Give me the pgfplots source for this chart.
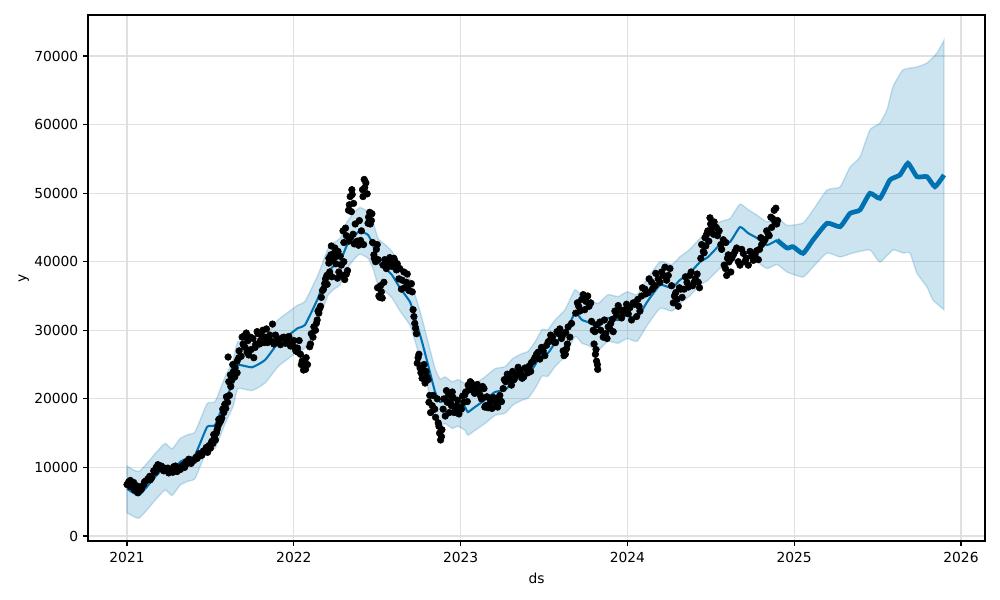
\documentclass[border=0pt]{standalone}
\usepackage{fontspec}
\setmainfont{DejaVu Sans}
\usepackage{pgfplots}
\usepackage{pgfplotstable}
\pgfplotsset{compat=1.18}
\usepgfplotslibrary{fillbetween}
\definecolor{pblue}{HTML}{0072B2}
\definecolor{gridc}{RGB}{224,224,224}

\pgfplotstableread{
x y
2021.000 7500
2021.010 7900
2021.020 8100
2021.030 7400
2021.040 7800
2021.055 7000
2021.065 6300
2021.075 6600
2021.085 6800
2021.100 7500
2021.112 8000
2021.124 8300
2021.136 8700
2021.148 8500
2021.160 9500
2021.175 10000
2021.190 9800
2021.205 10200
2021.220 9500
2021.235 9800
2021.250 9200
2021.265 9600
2021.280 10100
2021.300 9400
2021.320 9700
2021.340 10400
2021.355 10800
2021.370 11200
2021.385 10600
2021.400 11000
2021.415 11500
2021.432 12000
2021.449 11800
2021.466 12400
2021.483 12200
2021.500 12800
2021.515 13500
2021.525 14300
2021.535 15000
2021.545 16000
2021.555 16500
2021.568 17200
2021.580 18000
2021.592 18600
2021.603 19500
2021.614 20500
2021.606 26100
2021.622 21800
2021.630 22800
2021.638 24000
2021.646 23200
2021.660 25500
2021.672 27000
2021.684 26200
2021.696 28000
2021.708 27500
2021.720 26800
2021.703 29200
2021.715 29600
2021.730 26400
2021.745 27200
2021.760 26000
2021.772 28000
2021.786 29500
2021.800 28500
2021.814 30000
2021.828 29000
2021.842 28200
2021.856 29300
2021.872 30900
2021.880 28000
2021.900 28700
2021.920 27900
2021.940 29000
2021.960 28400
2021.980 27700
2022.000 28500
2022.012 27000
2022.022 27400
2022.032 28500
2022.040 26500
2022.050 25500
2022.058 24200
2022.066 24800
2022.074 26000
2022.082 25000
2022.100 28000
2022.115 29000
2022.130 30000
2022.140 31500
2022.150 32500
2022.160 33500
2022.172 35800
2022.185 36800
2022.198 38000
2022.210 39800
2022.222 41000
2022.234 40300
2022.246 42000
2022.258 40800
2022.270 38500
2022.285 39500
2022.300 40000
2022.315 38200
2022.300 42800
2022.315 43800
2022.330 43000
2022.328 47500
2022.338 49500
2022.348 50500
2022.358 48500
2022.355 44000
2022.368 45500
2022.380 43000
2022.393 46000
2022.405 44500
2022.418 42500
2022.412 50500
2022.422 52000
2022.432 51500
2022.448 46500
2022.458 45500
2022.468 47000
2022.480 41000
2022.490 40000
2022.500 42500
2022.510 35000
2022.520 36500
2022.530 34700
2022.540 37000
2022.555 39000
2022.570 40200
2022.585 39500
2022.600 40500
2022.615 38800
2022.630 37500
2022.645 36000
2022.660 38500
2022.675 37000
2022.690 35800
2022.705 36800
2022.715 33000
2022.725 31000
2022.735 29500
2022.745 26000
2022.757 24500
2022.769 23000
2022.781 25000
2022.793 24000
2022.805 22800
2022.815 20500
2022.830 19000
2022.845 18500
2022.860 20000
2022.866 16500
2022.874 15000
2022.880 14000
2022.888 15500
2022.895 18500
2022.908 17500
2022.920 19500
2022.932 18000
2022.945 19000
2022.928 20500
2022.950 21000
2022.962 18000
2022.975 19000
2022.990 17800
2023.005 18500
2023.020 19500
2023.030 21000
2023.045 22000
2023.058 22500
2023.071 21500
2023.084 20800
2023.097 21800
2023.110 21000
2023.125 20000
2023.140 21500
2023.150 19000
2023.165 18700
2023.180 19800
2023.195 20200
2023.210 19500
2023.222 18800
2023.235 20500
2023.255 21500
2023.270 22500
2023.288 23500
2023.305 22000
2023.320 22800
2023.335 23500
2023.352 24200
2023.369 23000
2023.386 24500
2023.403 23800
2023.420 24000
2023.435 25500
2023.455 26500
2023.475 25800
2023.495 27000
2023.515 27800
2023.533 28500
2023.551 29000
2023.569 28200
2023.587 29500
2023.605 28800
2023.615 27000
2023.628 26500
2023.640 28000
2023.655 29000
2023.645 30500
2023.665 31000
2023.690 32500
2023.708 33500
2023.726 34500
2023.744 33000
2023.762 35000
2023.780 34000
2023.795 30000
2023.815 30800
2023.835 31200
2023.800 28000
2023.808 26500
2023.815 25500
2023.822 24300
2023.855 29000
2023.870 29500
2023.885 30500
2023.900 31000
2023.915 29800
2023.935 32200
2023.955 33000
2023.975 32500
2023.995 33800
2024.015 33300
2024.035 34000
2024.055 32000
2024.070 33500
2024.085 35000
2024.105 36000
2024.125 35500
2024.145 37000
2024.165 36500
2024.185 37500
2024.205 38500
2024.225 39200
2024.245 38000
2024.275 34000
2024.290 35500
2024.305 33500
2024.320 36000
2024.340 36000
2024.357 37000
2024.374 38000
2024.391 36500
2024.408 37500
2024.425 37000
2024.440 40500
2024.455 41500
2024.470 42300
2024.465 43500
2024.482 44500
2024.499 45500
2024.516 44000
2024.533 45000
2024.495 46400
2024.560 42500
2024.575 43200
2024.580 39500
2024.595 38000
2024.610 40000
2024.625 40500
2024.645 41500
2024.665 40000
2024.685 41800
2024.705 40000
2024.725 39500
2024.745 40800
2024.765 41000
2024.785 40300
2024.805 42500
2024.825 43200
2024.845 44000
2024.865 45000
2024.885 45700
2024.860 46500
2024.880 47500
2024.900 46000
}\obsdata

\pgfplotstableread{
x y
2021.020 7200
2021.045 6700
2021.060 7300
2021.090 7200
2021.105 7900
2021.140 8200
2021.170 9300
2021.185 10400
2021.215 10000
2021.245 9900
2021.275 9300
2021.290 10200
2021.310 9900
2021.330 10200
2021.345 10000
2021.365 10600
2021.390 11000
2021.420 11300
2021.440 11700
2021.458 12400
2021.475 12900
2021.492 13200
2021.508 13800
2021.520 14800
2021.530 14000
2021.540 15500
2021.550 17000
2021.562 16800
2021.574 18500
2021.586 19200
2021.596 20300
2021.610 22500
2021.620 23500
2021.634 25000
2021.648 24500
2021.660 23800
2021.670 26000
2021.690 29000
2021.700 27800
2021.725 28500
2021.740 29000
2021.755 28800
2021.768 27500
2021.780 29800
2021.795 28000
2021.808 29200
2021.822 28200
2021.836 30200
2021.850 28800
2021.865 28400
2021.890 29300
2021.910 28300
2021.930 28900
2021.950 28100
2021.970 29100
2021.990 28200
2022.005 27500
2022.025 26800
2022.045 25000
2022.062 25600
2022.070 24300
2022.095 27600
2022.105 29500
2022.120 30500
2022.135 31000
2022.145 32800
2022.155 33200
2022.165 34800
2022.178 36000
2022.190 37500
2022.200 36700
2022.215 38500
2022.228 37800
2022.210 40500
2022.225 42300
2022.240 41200
2022.252 39700
2022.265 41500
2022.278 40800
2022.262 37600
2022.290 38000
2022.305 37400
2022.322 38700
2022.295 44500
2022.310 44900
2022.340 43500
2022.333 48300
2022.345 47300
2022.350 49800
2022.362 42600
2022.375 42900
2022.388 42400
2022.400 43100
2022.415 49500
2022.425 50800
2022.440 49900
2022.445 45600
2022.455 47200
2022.465 46000
2022.472 42800
2022.482 40500
2022.495 41800
2022.505 40300
2022.502 36200
2022.515 34800
2022.525 35600
2022.535 39500
2022.545 40300
2022.560 39900
2022.575 40600
2022.590 39300
2022.605 40100
2022.620 39700
2022.635 39000
2022.650 37300
2022.665 36200
2022.680 38200
2022.695 36700
2022.710 35600
2022.720 32000
2022.730 30300
2022.740 25200
2022.750 26500
2022.762 23800
2022.775 24200
2022.787 22300
2022.798 23200
2022.810 19500
2022.820 18000
2022.835 20500
2022.850 17300
2022.870 16000
2022.885 14500
2022.900 20000
2022.915 21200
2022.938 19500
2022.955 20200
2022.970 18400
2022.982 19800
2022.998 18700
2023.012 20400
2023.040 19600
2023.025 20600
2023.050 21300
2023.065 22300
2023.080 21000
2023.100 22100
2023.118 20500
2023.132 21800
2023.145 18800
2023.158 20300
2023.172 19200
2023.188 18600
2023.203 20100
2023.218 19100
2023.230 20000
2023.245 19600
2023.262 22800
2023.280 23600
2023.297 22900
2023.312 24000
2023.328 23300
2023.345 24600
2023.360 23700
2023.378 23200
2023.395 24300
2023.412 24800
2023.425 25300
2023.445 26000
2023.465 26800
2023.485 27500
2023.505 26300
2023.525 28300
2023.540 29300
2023.560 28300
2023.578 29800
2023.595 30200
2023.612 29300
2023.630 29700
2023.620 26300
2023.635 27300
2023.700 34000
2023.715 32800
2023.735 35200
2023.752 34200
2023.770 33500
2023.785 31300
2023.805 29800
2023.812 27200
2023.820 25000
2023.840 30000
2023.862 31500
2023.878 28800
2023.895 30200
2023.910 31600
2023.925 32800
2023.945 33600
2023.965 31800
2023.985 33000
2024.005 32400
2024.025 31500
2024.045 33800
2024.062 34500
2024.075 32800
2024.090 36200
2024.110 35300
2024.130 37500
2024.150 36000
2024.170 38300
2024.195 37000
2024.215 38000
2024.235 37300
2024.255 39000
2024.265 36500
2024.282 35000
2024.298 34500
2024.312 36200
2024.328 34800
2024.348 37800
2024.365 36300
2024.382 38500
2024.400 37000
2024.418 38200
2024.432 36200
2024.445 42500
2024.460 41300
2024.475 44000
2024.488 43000
2024.505 44800
2024.520 45800
2024.540 43800
2024.550 44500
2024.565 41800
2024.590 42800
2024.605 41000
2024.588 39000
2024.600 40500
2024.620 38500
2024.635 41000
2024.655 42000
2024.675 39500
2024.695 41200
2024.712 40500
2024.735 41500
2024.755 40200
2024.775 41600
2024.792 41800
2024.800 43500
2024.815 42800
2024.835 44500
2024.850 43800
2024.870 46300
2024.890 47800
2024.895 45500
}\obsdatab

\pgfplotstableread{
x y
2021.000 6900
2021.072 5980
2021.168 8600
2021.228 10060
2021.270 9330
2021.318 10790
2021.366 11375
2021.408 11800
2021.480 15900
2021.528 16190
2021.588 19830
2021.636 22300
2021.665 24900
2021.749 24600
2021.827 25660
2021.905 28140
2021.947 28870
2022.025 30330
2022.067 30770
2022.145 34700
2022.205 38500
2022.247 39500
2022.277 39950
2022.319 42430
2022.367 43900
2022.397 44470
2022.445 43900
2022.475 42430
2022.505 39950
2022.547 39070
2022.589 38050
2022.637 36160
2022.697 34120
2022.727 31780
2022.769 28290
2022.805 24930
2022.847 21000
2022.877 19540
2022.907 19830
2022.949 19100
2022.984 19390
2023.026 18810
2023.044 18080
2023.086 18810
2023.146 19830
2023.206 21000
2023.266 21290
2023.314 22450
2023.368 23180
2023.404 23470
2023.446 24930
2023.488 26680
2023.524 26680
2023.566 28140
2023.626 29600
2023.686 32510
2023.728 31490
2023.764 31200
2023.824 30470
2023.884 31780
2023.944 31490
2023.998 32220
2024.058 31780
2024.118 34120
2024.196 36600
2024.267 36160
2024.314 37320
2024.374 38350
2024.435 39950
2024.483 40680
2024.554 42430
2024.615 42870
2024.675 45050
2024.723 44180
2024.777 43450
2024.837 42430
2024.897 43160
}\histdata

\pgfplotstableread{
x y
2024.897 43160
2024.957 41990
2024.993 42190
2025.053 41220
2025.113 43170
2025.197 45600
2025.275 45110
2025.335 47050
2025.394 47540
2025.454 49970
2025.514 49250
2025.574 51920
2025.634 52650
2025.682 54350
2025.736 52400
2025.796 52400
2025.844 50940
2025.898 52650
}\futdata

\pgfplotstableread{
x y
2021.000 10200
2021.072 9400
2021.168 12000
2021.228 13500
2021.270 12700
2021.318 14200
2021.366 14800
2021.408 15200
2021.480 19300
2021.528 19600
2021.588 23200
2021.636 25700
2021.665 28300
2021.749 28000
2021.827 29100
2021.905 31500
2021.947 32300
2022.025 33700
2022.067 34200
2022.145 38100
2022.205 41900
2022.247 42900
2022.277 43400
2022.319 45800
2022.367 47300
2022.397 47900
2022.445 47300
2022.475 45800
2022.505 43400
2022.547 42500
2022.589 41500
2022.637 39600
2022.697 37500
2022.727 35200
2022.769 31700
2022.805 28300
2022.847 24400
2022.877 22900
2022.907 23200
2022.949 22500
2022.984 22800
2023.026 22200
2023.044 21500
2023.086 22200
2023.146 23200
2023.206 24400
2023.266 24700
2023.314 25900
2023.368 26600
2023.404 26900
2023.446 28300
2023.488 30100
2023.524 30100
2023.566 31500
2023.626 33000
2023.686 35900
2023.728 34900
2023.764 34600
2023.824 33900
2023.884 35200
2023.944 34900
2023.998 35600
2024.058 35200
2024.118 37500
2024.196 40000
2024.267 39600
2024.314 40700
2024.374 41800
2024.435 43400
2024.483 44100
2024.554 45800
2024.615 46300
2024.675 48400
2024.723 47600
2024.777 46800
2024.837 45800
2024.897 46500
2024.957 45300
2025.053 45650
2025.113 47540
2025.197 50460
2025.275 50900
2025.335 53810
2025.394 55270
2025.454 59210
2025.514 60230
2025.556 62130
2025.592 65480
2025.652 67960
2025.736 68400
2025.796 68980
2025.856 70440
2025.898 72300
}\updata

\pgfplotstableread{
x y
2021.000 3400
2021.072 2600
2021.168 5200
2021.228 6700
2021.270 5900
2021.318 7400
2021.366 8000
2021.408 8400
2021.480 12500
2021.528 12800
2021.588 16400
2021.636 18900
2021.665 21500
2021.749 21200
2021.827 22300
2021.905 24700
2021.947 25500
2022.025 26900
2022.067 27400
2022.145 31300
2022.205 35100
2022.247 36100
2022.277 36600
2022.319 39000
2022.367 40500
2022.397 41100
2022.445 40500
2022.475 39000
2022.505 36600
2022.547 35700
2022.589 34700
2022.637 32800
2022.697 30700
2022.727 28400
2022.769 24900
2022.805 21500
2022.847 17600
2022.877 16100
2022.907 16400
2022.949 15700
2022.984 16000
2023.026 15400
2023.044 14700
2023.086 15400
2023.146 16400
2023.206 17600
2023.266 17900
2023.314 19100
2023.368 19800
2023.404 20100
2023.446 21500
2023.488 23300
2023.524 23300
2023.566 24700
2023.626 26200
2023.686 29100
2023.728 28100
2023.764 27800
2023.824 27100
2023.884 28400
2023.944 28100
2023.998 28800
2024.058 28400
2024.118 30700
2024.196 33200
2024.267 32800
2024.314 33900
2024.374 35000
2024.435 36600
2024.483 37300
2024.554 39000
2024.615 39500
2024.675 41700
2024.723 40800
2024.777 40000
2024.837 39000
2024.897 39600
2024.957 38500
2025.053 37770
2025.113 39230
2025.197 41270
2025.275 40690
2025.353 41270
2025.454 41710
2025.514 39960
2025.592 41710
2025.652 41270
2025.694 41270
2025.736 38350
2025.796 36310
2025.832 34420
2025.898 33000
}\lodata

\begin{document}
\begin{tikzpicture}
\begin{axis}[
  at={(0,0)}, anchor=south west, scale only axis,
  width=8.97in, height=5.26in,
  xmin=2020.766, xmax=2026.144, ymin=-730, ymax=75980,
  xtick={2021,2022,2023,2024,2025,2026},
  ytick={0,10000,20000,30000,40000,50000,60000,70000},
  scaled x ticks=false, scaled y ticks=false,
  /pgf/number format/1000 sep={},
  /pgf/number format/assume math mode=true,
  tick label style={font=\fontsize{10}{12}\selectfont},
  label style={font=\fontsize{10}{12}\selectfont},
  xlabel={ds}, ylabel={y},
  ylabel style={yshift=-3pt},
  xticklabel style={yshift=-1pt},
  xlabel style={yshift=-1pt},
  tick align=outside, xtick pos=bottom, ytick pos=left,
  major tick length=3.5pt,
  tick style={black, line width=0.8pt},
  axis line style={line width=0.8pt},
  grid=major, major grid style={gridc, line width=0.8pt},
]
\addplot[only marks, mark=*, mark size=2.4pt, black] table {\obsdata};
\addplot[only marks, mark=*, mark size=2.4pt, black] table {\obsdatab};
\addplot[pblue, line width=1.5pt, smooth, tension=0.3] table {\histdata};
\addplot[pblue, line width=3.4pt, smooth, tension=0.3] table {\futdata};
\addplot[name path=hi, draw=none, smooth, tension=0.3] table {\updata};
\addplot[name path=lo, draw=none, smooth, tension=0.3] table {\lodata};
\addplot[fill=pblue, fill opacity=0.2, draw=pblue, draw opacity=0.2, line width=1pt] fill between[of=hi and lo];
\end{axis}
\pgfresetboundingbox
\path[use as bounding box] (-0.88in,-0.59in) rectangle (9.12in,5.41in);
\end{tikzpicture}
\end{document}
